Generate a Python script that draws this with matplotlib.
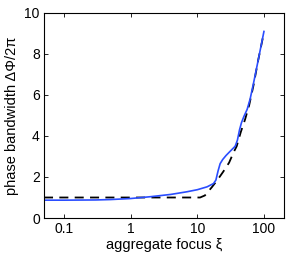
import numpy as np
import matplotlib
matplotlib.use('Agg')
import matplotlib.pyplot as plt

plt.rcParams['font.family'] = ['Liberation Sans', 'DejaVu Sans']

# blue solid curve
xi_blue = [0.05, 0.1, 0.3, 0.5, 1, 2, 4, 7, 10, 14, 17.5, 19, 20.5, 22, 24, 27, 31, 37, 40, 43, 46, 50, 56, 62, 70, 82, 100]
bw_blue = [0.87, 0.87, 0.88, 0.9, 0.95, 1.04, 1.15, 1.28, 1.38, 1.52, 1.68, 1.85, 2.3, 2.65, 2.85, 3.05, 3.25, 3.5, 3.8, 4.3, 4.65, 4.95, 5.3, 5.8, 6.6, 7.7, 9.1]

# black dashed curve
xi_dash = [0.05, 11, 13, 16.5, 20, 24.5, 30, 35, 39, 45, 52, 60, 70, 82, 100]
bw_dash = [1.0, 1.0, 1.1, 1.5, 1.85, 2.26, 2.7, 3.2, 3.5, 4.2, 4.8, 5.5, 6.5, 7.7, 9.05]

xticks = [0.1, 1, 10, 100]
xticklabels = ['0.1', '1', '10', '100']
yticks = [0, 2, 4, 6, 8, 10]

fig = plt.figure(figsize=(2.89, 2.57), dpi=100)
ax = fig.add_axes([44 / 289, 1 - 218 / 257, 240 / 289, 205 / 257])

ax.plot(xi_dash, bw_dash, color='black', linestyle=(0, (5, 3.5)), linewidth=1.3)
ax.plot(xi_blue, bw_blue, color='#2a4dff', linewidth=1.2)

ax.set_xscale('log')
ax.set_xlim(0.05, 200)
ax.set_ylim(0, 10)
ax.set_xticks(xticks)
ax.set_xticklabels(xticklabels)
ax.minorticks_off()
ax.set_yticks(yticks)
ax.tick_params(direction='in', top=True, right=True, labelsize=10, length=3, width=0.6, pad=3)
for s in ax.spines.values():
    s.set_linewidth(0.8)

ax.set_xlabel('aggregate focus ξ', fontsize=10.5, labelpad=1)
ax.set_ylabel('phase bandwidth ΔΦ/2π', fontsize=10.5, labelpad=4)

fig.savefig('out.png', dpi=100)
